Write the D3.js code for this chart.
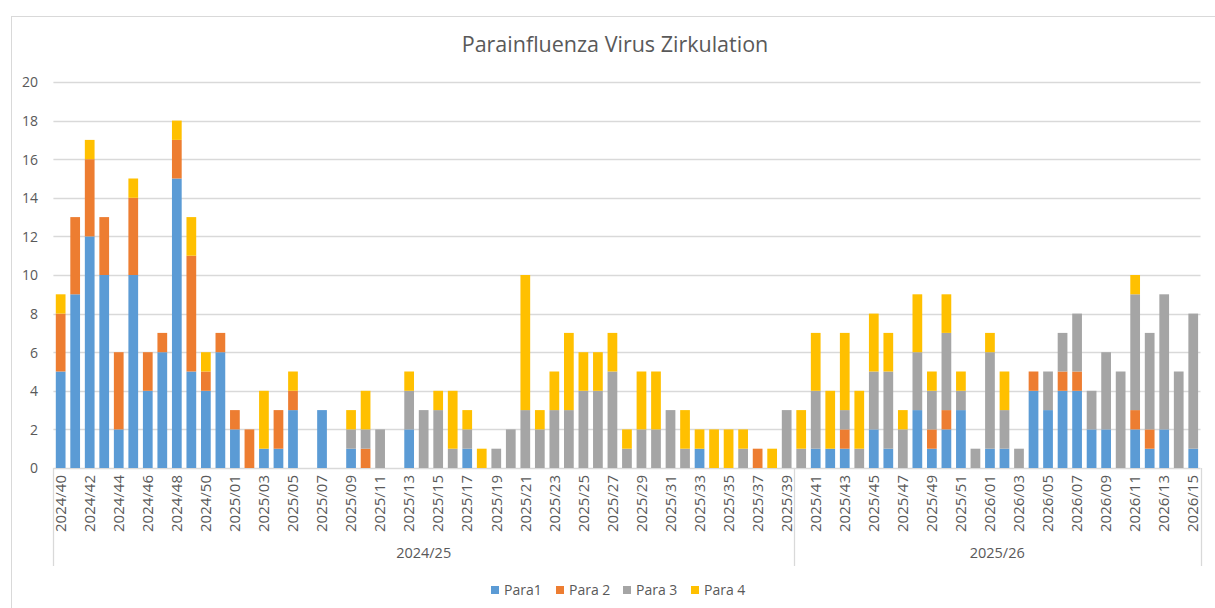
<!DOCTYPE html>
<html>
<head>
<meta charset="utf-8">
<script src="https://cdn.jsdelivr.net/npm/d3@7"></script>
<style>
  html, body { margin: 0; padding: 0; background: #fff; }
  svg { display: block; }
  text { font-family: "Open Sans", "Noto Sans", sans-serif; fill: #595959; }
</style>
</head>
<body>
<svg id="chart" width="1215" height="608"></svg>
<script>
const weeks = [
  "2024/40","2024/41","2024/42","2024/43","2024/44","2024/45","2024/46","2024/47","2024/48","2024/49","2024/50","2024/51",
  "2025/01","2025/02","2025/03","2025/04","2025/05","2025/06","2025/07","2025/08","2025/09","2025/10",
  "2025/11","2025/12","2025/13","2025/14","2025/15","2025/16","2025/17","2025/18","2025/19","2025/20",
  "2025/21","2025/22","2025/23","2025/24","2025/25","2025/26","2025/27","2025/28","2025/29","2025/30",
  "2025/31","2025/32","2025/33","2025/34","2025/35","2025/36","2025/37","2025/38","2025/39",
  "2025/40","2025/41","2025/42","2025/43","2025/44","2025/45","2025/46","2025/47","2025/48","2025/49",
  "2025/50","2025/51","2025/52","2026/01","2026/02","2026/03","2026/04","2026/05","2026/06","2026/07",
  "2026/08","2026/09","2026/10","2026/11","2026/12","2026/13","2026/14","2026/15"
];
const seasons = ["2024/25", "2025/26"];
const seriesNames = ["Para1", "Para 2", "Para 3", "Para 4"];
const para1 = [5,9,12,10,2,10,4,6,15,5,4,6, 2,0,1,1,3,0,3,0,1,0, 0,0,2,0,0,0,1,0,0,0, 0,0,0,0,0,0,0,0,0,0, 0,0,1,0,0,0,0,0,0,
  0,1,1,1,0,2,1,0,3,1, 2,3,0,1,1,0,4,3,4,4, 2,2,0,2,1,2,0,1];
const para2 = [3,4,4,3,4,4,2,1,2,6,1,1, 1,2,0,2,1,0,0,0,0,1, 0,0,0,0,0,0,0,0,0,0, 0,0,0,0,0,0,0,0,0,0, 0,0,0,0,0,0,1,0,0,
  0,0,0,1,0,0,0,0,0,1, 1,0,0,0,0,0,1,0,1,1, 0,0,0,1,1,0,0,0];
const para3 = [0,0,0,0,0,0,0,0,0,0,0,0, 0,0,0,0,0,0,0,0,1,1, 2,0,2,3,3,1,1,0,1,2, 3,2,3,3,4,4,5,1,2,2, 3,1,0,0,0,1,0,0,3,
  1,3,0,1,1,3,4,2,3,2, 4,1,1,5,2,1,0,2,2,3, 2,4,5,6,5,7,5,7];
const para4 = [1,0,1,0,0,1,0,0,1,2,1,0, 0,0,3,0,1,0,0,0,1,2, 0,0,1,0,1,3,1,1,0,0, 7,1,2,4,2,2,2,1,3,3, 0,2,1,2,2,1,0,1,0,
  2,3,3,4,3,3,2,1,3,1, 2,1,0,1,2,0,0,0,0,0, 0,0,0,1,0,0,0,0];
const yTicks = [0,2,4,6,8,10,12,14,16,18,20];
const colors = ["#5b9bd5", "#ed7d31", "#a5a5a5", "#ffc000"];

const svg = d3.select("#chart");

// outer chart border
svg.append("rect").attr("x", 11.5).attr("y", 16.5).attr("width", 1220).attr("height", 600)
  .attr("fill", "none").attr("stroke", "#d9d9d9").attr("stroke-width", 1);

const plotLeft = 53.4, plotRight = 1200.5, plotTop = 82, plotBottom = 468;
const x = d3.scaleBand().domain(weeks).range([plotLeft, plotRight]).paddingInner(0.33).paddingOuter(0.165);
const y = d3.scaleLinear().domain([0, 20]).range([plotBottom, plotTop]);

// title
svg.append("text").attr("x", 615).attr("y", 52).attr("text-anchor", "middle")
  .style("font-size", "21.5px").text("Parainfluenza Virus Zirkulation");

// gridlines
svg.append("g").selectAll("line").data(yTicks).join("line")
  .attr("x1", plotLeft).attr("x2", plotRight)
  .attr("y1", d => Math.round(y(d)) + 0.5).attr("y2", d => Math.round(y(d)) + 0.5)
  .attr("stroke", "#d9d9d9").attr("stroke-width", 1.3);

// y labels
const yAxis = d3.axisLeft(y).tickValues(yTicks).tickSize(0).tickPadding(0);
const gy = svg.append("g").attr("transform", `translate(38,0)`).call(yAxis);
gy.select(".domain").remove();
gy.selectAll("text").style("font-size", "14px").attr("fill", "#595959").attr("dy", "0.35em");

// stacked data
const table = weeks.map((w, i) => ({ week: w, s0: para1[i], s1: para2[i], s2: para3[i], s3: para4[i] }));
const stack = d3.stack().keys(["s0", "s1", "s2", "s3"])(table);

svg.append("g").selectAll("g").data(stack).join("g")
  .attr("fill", (d, i) => colors[i])
  .selectAll("rect").data(d => d).join("rect")
  .attr("x", d => x(d.data.week))
  .attr("width", x.bandwidth())
  .attr("y", d => y(d[1]))
  .attr("height", d => y(d[0]) - y(d[1]));

// x axis
const xAxis = d3.axisBottom(x).tickValues(weeks.filter((w, i) => i % 2 === 0)).tickSize(0).tickPadding(0);
const gx = svg.append("g").attr("transform", `translate(0,${plotBottom})`).call(xAxis);
gx.select(".domain").remove();
gx.selectAll("text")
  .style("font-size", "15px").attr("fill", "#595959")
  .attr("transform", "rotate(-90)")
  .attr("text-anchor", "end")
  .attr("x", -7).attr("y", 0).attr("dy", "0.35em");

// season grouping
const seasonOf = w => {
  const [yr, wk] = w.split("/").map(Number);
  const start = wk >= 40 ? yr : yr - 1;
  return `${start}/${String((start + 1) % 100).padStart(2, "0")}`;
};
const step = x.step();
const groups = seasons.map(s => {
  const idx = weeks.map((w, i) => [w, i]).filter(([w]) => seasonOf(w) === s).map(([, i]) => i);
  const x0 = x(weeks[idx[0]]) - step * x.paddingInner() / 2;
  const x1 = x(weeks[idx[idx.length - 1]]) + x.bandwidth() + step * x.paddingInner() / 2;
  return { s, x0, x1 };
});
const bounds = [groups[0].x0, ...groups.map(g => g.x1)];
svg.append("g").selectAll("line").data(bounds).join("line")
  .attr("x1", d => Math.round(d) + 0.5).attr("x2", d => Math.round(d) + 0.5)
  .attr("y1", plotBottom).attr("y2", 566)
  .attr("stroke", "#d9d9d9").attr("stroke-width", 1.3);
svg.append("g").selectAll("text").data(groups).join("text")
  .attr("x", d => (d.x0 + d.x1) / 2).attr("y", 558).attr("text-anchor", "middle")
  .style("font-size", "14.5px").text(d => d.s);

// legend
const legendX = [491, 556, 623, 691];
const lg = svg.append("g").selectAll("g").data(seriesNames).join("g")
  .attr("transform", (d, i) => `translate(${legendX[i]},590)`);
lg.append("rect").attr("x", 0).attr("y", -4).attr("width", 8).attr("height", 8)
  .attr("fill", (d, i) => colors[i]);
lg.append("text").attr("x", 13).attr("y", 0).attr("dy", "0.35em")
  .style("font-size", "14px").text(d => d);
</script>
</body>
</html>
